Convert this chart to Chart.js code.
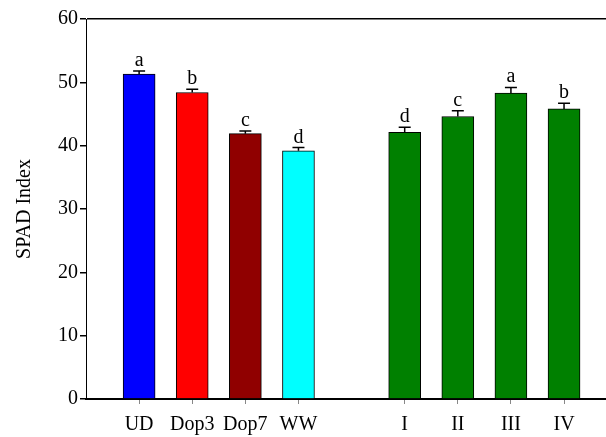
<!DOCTYPE html>
<html>
<head>
<meta charset="utf-8">
<script src="https://cdn.jsdelivr.net/npm/chart.js@4/dist/chart.umd.min.js"></script>
<style>
html,body{margin:0;padding:0;background:#fff;}
#wrap{width:606px;height:437px;position:relative;}
</style>
</head>
<body>
<div id="wrap"><canvas id="c" width="606" height="437"></canvas></div>
<script>
// ---- data ----
const categories = ['UD', 'Dop3', 'Dop7', 'WW', '', 'I', 'II', 'III', 'IV'];
const spadValues = [51.3, 48.4, 41.9, 39.2, null, 42.1, 44.6, 48.3, 45.8];
const spadErrors = [0.5, 0.5, 0.4, 0.5, null, 0.8, 0.9, 0.9, 0.9];
const letters    = ['a', 'b', 'c', 'd', '', 'd', 'c', 'a', 'b'];
const barColors  = ['#0000ff', '#ff0000', '#900000', '#00ffff', null, '#008000', '#008000', '#008000', '#008000'];
const yTicks = [0, 10, 20, 30, 40, 50, 60];

const FONT = "'Liberation Serif', 'Times New Roman', serif";
const FSIZE = 20;

const points = [], colors = [], errs = [], labs = [];
categories.forEach((c, i) => {
  if (spadValues[i] === null) return;
  points.push({x: i + 1, y: spadValues[i]});
  colors.push(barColors[i]);
  errs.push(spadErrors[i]);
  labs.push(letters[i]);
});

const errPlugin = {
  id: 'errLetters',
  afterDatasetsDraw(chart) {
    const ctx = chart.ctx;
    const xs = chart.scales.x, ys = chart.scales.y;
    ctx.save();
    points.forEach((p, i) => {
      const x = xs.getPixelForValue(p.x);
      const yTop = ys.getPixelForValue(p.y + errs[i]);
      const yBar = ys.getPixelForValue(p.y);
      ctx.strokeStyle = '#000';
      ctx.lineWidth = 1.5;
      ctx.beginPath();
      ctx.moveTo(x, yBar);
      ctx.lineTo(x, yTop);
      ctx.moveTo(x - 6, yTop);
      ctx.lineTo(x + 6, yTop);
      ctx.stroke();
      ctx.fillStyle = '#000';
      ctx.font = FSIZE + 'px ' + FONT;
      ctx.textAlign = 'center';
      ctx.textBaseline = 'alphabetic';
      ctx.fillText(labs[i], x, yTop - 5);
    });
    ctx.restore();
  }
};

new Chart(document.getElementById('c'), {
  type: 'bar',
  data: {
    datasets: [{
      data: points,
      backgroundColor: colors,
      borderColor: '#000',
      borderWidth: 1,
      barThickness: 32
    }]
  },
  options: {
    responsive: false,
    animation: false,
    events: [],
    layout: {padding: {top: 19, right: 0, left: 0, bottom: 0}},
    plugins: {legend: {display: false}, tooltip: {enabled: false}},
    scales: {
      x: {
        type: 'linear',
        offset: false,
        min: 0,
        max: 9.79,
        afterBuildTicks: (s) => { s.ticks = categories.map((c, i) => ({value: i + 1})); },
        afterFit: (s) => { s.height = 38; },
        ticks: {
          autoSkip: false,
          maxRotation: 0,
          padding: 9,
          color: '#000',
          font: {family: FONT, size: FSIZE},
          callback: (v) => categories[Math.round(v) - 1] || ''
        },
        grid: {
          offset: false,
          drawOnChartArea: false,
          tickLength: 5,
          tickColor: (c) => (c.tick && categories[Math.round(c.tick.value) - 1]) ? '#888' : 'rgba(0,0,0,0)',
          color: '#888'
        },
        border: {display: true, color: '#000', width: 2}
      },
      y: {
        min: 0,
        max: 60,
        afterBuildTicks: (s) => { s.ticks = yTicks.map(v => ({value: v})); },
        afterFit: (s) => { s.width = 86; },
        ticks: {
          padding: 2,
          color: '#000',
          font: {family: FONT, size: FSIZE}
        },
        grid: {
          drawOnChartArea: true,
          tickLength: 6,
          tickColor: '#000',
          color: (c) => (c.tick && c.tick.value === 60) ? '#000' : 'rgba(0,0,0,0)',
          lineWidth: 1.5
        },
        border: {display: true, color: '#000', width: 1},
        title: {
          display: true,
          text: 'SPAD Index',
          color: '#000',
          font: {family: FONT, size: FSIZE},
          padding: {top: 13, bottom: 0}
        }
      }
    }
  },
  plugins: [errPlugin]
});
</script>
</body>
</html>
